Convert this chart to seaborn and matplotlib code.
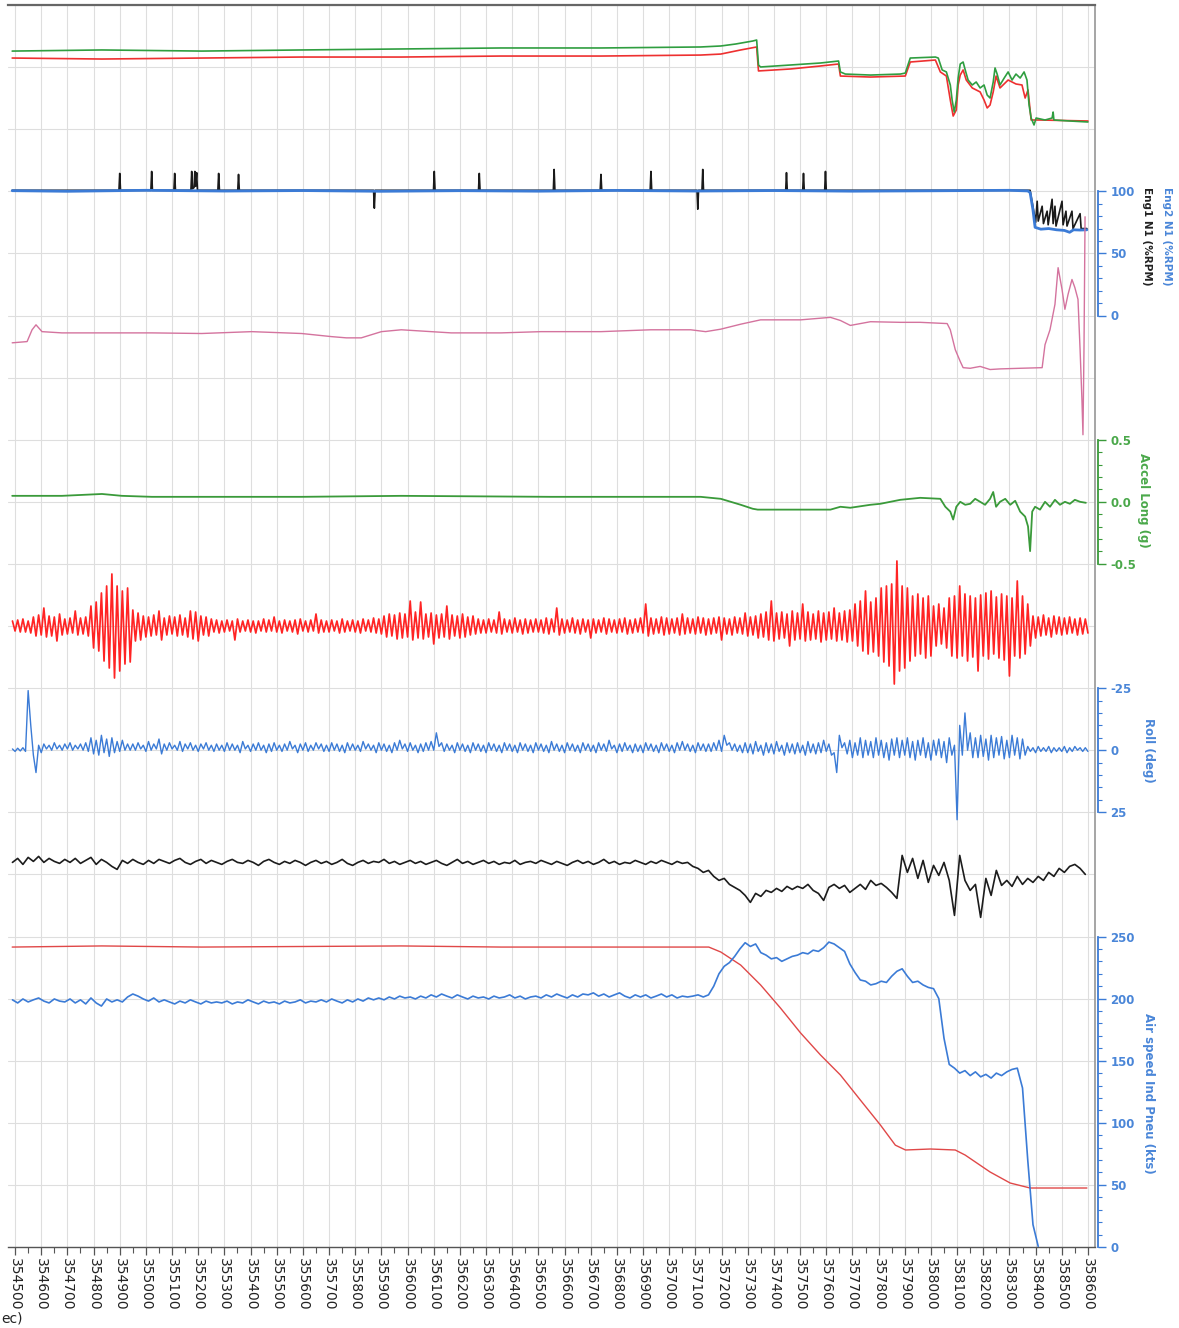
import numpy as np
import matplotlib
matplotlib.use("Agg")
import matplotlib.pyplot as plt
import seaborn as sns
from matplotlib.ticker import FixedLocator, FormatStrFormatter

# ------------------------------------------------------------------ data
X_TICKS = list(range(354500, 358601, 100))

# 20-s sample grid start for the noisy channels
T0 = 354490
DT = 20

# top pair (unlabeled channel, band units 0..100)
top_green_t = [354489, 354832, 355213, 355595, 355976, 356357, 356739, 357120, 357197, 357254,
               357319, 357334, 357341, 357349, 357464, 357578, 357647, 357654, 357673, 357769,
               357883, 357902, 357921, 358017, 358028, 358043, 358059, 358074, 358081, 358089,
               358097, 358104, 358112, 358123, 358131, 358142, 358158, 358173, 358188, 358203,
               358215, 358226, 358238, 358245, 358253, 358264, 358280, 358295, 358310, 358325,
               358341, 358356, 358367, 358375, 358383, 358394, 358402, 358436, 358463, 358467,
               358470, 358531, 358600]
top_green = [62.9, 63.8, 62.9, 63.8, 64.6, 65.4, 65.4, 66.2, 67.0, 68.6,
             71.0, 71.8, 51.7, 50.1, 51.7, 53.3, 54.9, 46.1, 44.4, 43.6,
             44.4, 45.2, 57.3, 58.1, 57.3, 47.7, 46.1, 35.6, 23.5, 13.8,
             23.5, 41.2, 52.5, 54.1, 47.7, 39.6, 35.6, 38.0, 33.2, 35.6,
             27.5, 25.1, 38.0, 49.3, 44.4, 35.6, 41.2, 46.1, 39.6, 44.4,
             41.2, 46.1, 39.6, 19.5, 9.0, 3.4, 9.0, 7.4, 9.0, 13.8,
             7.4, 6.6, 5.8]
top_red_t = [354489, 354832, 355213, 355595, 355976, 356357, 356739, 357120, 357197, 357273,
             357334, 357341, 357464, 357578, 357647, 357654, 357769, 357902, 357921, 358017,
             358036, 358059, 358074, 358085, 358097, 358104, 358112, 358123, 358135, 358158,
             358188, 358203, 358215, 358226, 358238, 358249, 358264, 358295, 358325, 358348,
             358360, 358371, 358383, 358417, 358600]
top_red = [57.3, 56.5, 57.3, 58.1, 58.1, 58.9, 58.9, 59.7, 60.5, 63.8,
           66.2, 46.9, 48.5, 50.9, 52.5, 42.8, 42.0, 42.8, 54.1, 55.7,
           46.1, 42.8, 23.5, 10.6, 15.5, 35.6, 43.6, 47.7, 39.6, 33.2,
           30.0, 23.5, 17.1, 19.5, 30.0, 42.8, 33.2, 39.6, 36.4, 35.6,
           25.1, 31.6, 7.4, 7.4, 6.6]

# Eng N1 (%RPM)
eng2_n1_t = [354489, 354700, 355000, 355300, 355600, 355900, 356200, 356500, 356800, 357100,
             357400, 357700, 358000, 358300, 358370, 358379, 358390, 358398, 358420, 358450,
             358480, 358510, 358530, 358545, 358570, 358596]
eng2_n1 = [100.5, 100.0, 100.8, 100.2, 100.6, 100.0, 100.5, 100.1, 100.7, 100.2,
           100.6, 100.1, 100.4, 100.8, 100.3, 99.0, 85.0, 71.0, 69.5, 70.0,
           69.0, 68.5, 67.0, 69.0, 68.8, 69.0]
eng1_n1_t = [354489,
             354897, 354900, 354903, 355019, 355022, 355025, 355107, 355110, 355113,
             355172, 355175, 355178, 355184, 355187, 355190, 355194, 355197,
             355275, 355278, 355281, 355351, 355354, 355357, 355870, 355873, 355876,
             356099, 356102, 356105, 356271, 356274, 356277, 356557, 356560, 356563,
             356736, 356739, 356742, 356927, 356930, 356933, 357106, 357109, 357112,
             357125, 357128, 357131, 357445, 357448, 357451, 357510, 357513, 357516,
             357594, 357597, 357600,
             358379, 358392, 358400, 358406, 358410, 358425, 358430, 358444, 358448,
             358463, 358467, 358474, 358478, 358501, 358505, 358516, 358520, 358539,
             358543, 358570, 358574, 358596]
eng1_n1 = [100.8,
           100.8, 114.4, 100.8, 100.8, 116.0, 100.8, 100.8, 114.4, 100.8,
           100.8, 116.0, 102.0, 103.0, 116.0, 104.0, 115.0, 100.8,
           100.8, 114.4, 100.8, 100.8, 113.6, 100.8, 100.8, 86.4, 100.8,
           100.8, 116.0, 100.8, 100.8, 114.4, 100.8, 100.8, 117.6, 100.8,
           100.8, 113.6, 100.8, 100.8, 116.0, 100.8, 100.8, 85.6, 100.8,
           100.8, 117.6, 100.8, 100.8, 115.0, 100.8, 100.8, 114.4, 100.8,
           100.8, 116.0, 100.8,
           100.8, 85.0, 75.0, 92.0, 76.0, 88.0, 74.0, 84.0, 73.0,
           93.6, 74.0, 88.0, 72.0, 92.0, 73.0, 84.0, 72.0, 84.0,
           70.0, 82.0, 70.0, 70.0]

# pink channel (unlabeled)
pink_t = [354489, 354546, 354565, 354580, 354603, 354679, 354832, 355023, 355213, 355404,
          355595, 355709, 355766, 355823, 355900, 355976, 356167, 356357, 356510, 356739,
          356929, 357082, 357139, 357197, 357273, 357349, 357502, 357616, 357654, 357692,
          357769, 357883, 357959, 358062, 358074, 358093, 358112, 358123, 358150, 358188,
          358226, 358264, 358341, 358425, 358436, 358455, 358474, 358486, 358501, 358512,
          358524, 358539, 358550, 358562, 358570, 358577, 358581, 358585, 358589]
pink = [5.6, 5.8, 7.7, 8.5, 7.4, 7.2, 7.2, 7.2, 7.1, 7.4,
        7.1, 6.6, 6.4, 6.4, 7.4, 7.7, 7.2, 7.2, 7.4, 7.4,
        7.7, 7.7, 7.4, 7.8, 8.6, 9.3, 9.3, 9.7, 9.2, 8.4,
        9.0, 8.9, 8.9, 8.7, 7.7, 4.5, 2.6, 1.6, 1.5, 1.8,
        1.3, 1.4, 1.5, 1.6, 5.3, 7.7, 11.8, 17.7, 14.2, 11.0,
        13.4, 15.8, 14.5, 12.6, 4.5, -3.5, -9.2, 5.0, 25.9]

# Accel Long (g)
accel_t = [354489, 354679, 354832, 354908, 355023, 355595, 355976, 356548, 357120, 357197,
           357273, 357319, 357338, 357502, 357616, 357654, 357692, 357769, 357807, 357883,
           357959, 358036, 358055, 358074, 358085, 358097, 358112, 358131, 358150, 358169,
           358188, 358207, 358226, 358238, 358249, 358264, 358284, 358303, 358322, 358341,
           358360, 358371, 358379, 358387, 358398, 358417, 358436, 358455, 358474, 358493,
           358512, 358531, 358550, 358570, 358592]
accel = [0.048, 0.048, 0.063, 0.048, 0.040, 0.040, 0.048, 0.040, 0.040, 0.024,
         -0.024, -0.056, -0.063, -0.063, -0.063, -0.040, -0.048, -0.024, -0.016, 0.016,
         0.032, 0.024, -0.040, -0.079, -0.143, -0.040, 0.000, -0.024, -0.016, 0.024,
         0.000, -0.024, 0.024, 0.079, -0.040, 0.000, 0.024, -0.024, 0.008, -0.079,
         -0.119, -0.198, -0.397, -0.079, -0.040, -0.063, 0.000, -0.040, 0.016, -0.024,
         0.000, -0.016, 0.016, 0.000, -0.008]

# red vibration channel (unlabeled), upper / lower excursion per 20-s bin
red_up = [5, 6, 7, 5, 9, 11, 18, 10, 9, 12,
          7, 8, 15, 8, 9, 20, 24, 33, 40, 52,
          40, 35, 38, 16, 13, 10, 9, 11, 15, 8,
          10, 9, 11, 8, 15, 14, 10, 9, 7, 6,
          5, 6, 5, 7, 5, 6, 5, 5, 7, 6,
          9, 5, 6, 5, 6, 7, 5, 6, 12, 6,
          5, 6, 5, 7, 5, 6, 5, 7, 6, 8,
          7, 10, 12, 11, 13, 12, 25, 14, 24, 12,
          13, 11, 12, 20, 11, 10, 12, 9, 10, 7,
          6, 7, 6, 14, 7, 6, 8, 6, 7, 6,
          7, 6, 8, 7, 18, 7, 6, 8, 6, 7,
          6, 7, 6, 8, 7, 6, 7, 8, 6, 7,
          8, 22, 8, 7, 9, 8, 7, 8, 12, 8,
          7, 9, 8, 7, 8, 9, 8, 7, 9, 8,
          13, 9, 10, 12, 14, 25, 13, 14, 12, 15,
          13, 22, 14, 12, 15, 13, 14, 18, 13, 15,
          16, 22, 25, 35, 24, 28, 38, 40, 42, 65,
          40, 38, 30, 32, 28, 30, 20, 22, 18, 28,
          30, 40, 32, 30, 28, 31, 33, 35, 29, 32,
          30, 28, 45, 30, 22, 10, 9, 11, 8, 10,
          9, 8, 9, 7, 8, 7]
red_lo = [-5, -6, -6, -7, -10, -9, -11, -10, -15, -9,
          -8, -7, -9, -8, -10, -22, -25, -35, -42, -52,
          -45, -38, -36, -15, -14, -11, -10, -9, -14, -9,
          -8, -10, -9, -11, -13, -15, -9, -10, -6, -7,
          -6, -5, -14, -6, -5, -6, -7, -5, -6, -5,
          -6, -7, -5, -6, -8, -5, -6, -5, -7, -6,
          -6, -5, -7, -6, -5, -6, -7, -5, -6, -7,
          -8, -11, -10, -13, -12, -11, -14, -12, -13, -11,
          -18, -12, -11, -13, -10, -12, -11, -9, -8, -7,
          -7, -6, -7, -8, -6, -7, -6, -8, -7, -6,
          -6, -7, -8, -6, -9, -7, -6, -7, -8, -6,
          -12, -7, -6, -8, -6, -7, -6, -8, -7, -6,
          -7, -10, -8, -7, -9, -8, -7, -9, -8, -7,
          -8, -7, -9, -8, -7, -14, -8, -9, -7, -8,
          -10, -9, -12, -11, -14, -15, -13, -12, -20, -14,
          -13, -15, -14, -13, -16, -14, -13, -15, -14, -16,
          -15, -20, -25, -28, -26, -30, -36, -40, -58, -45,
          -42, -35, -30, -28, -32, -30, -20, -18, -22, -30,
          -32, -30, -35, -31, -45, -30, -33, -28, -32, -34,
          -50, -30, -32, -28, -20, -12, -10, -9, -11, -8,
          -9, -8, -7, -9, -8, -7]

# Roll (deg), the two excursions per 20-s bin
roll_a = [-0.5, -0.8, -1.0, -24, 2, -2, -2.5, -2, -3, -2,
          -2.5, -3, -2, -2.5, -3, -5, -4, -6, -4.5, -5,
          -3.5, -4, -2.5, -2.5, -3, -2, -3.5, -2.5, -4.5, -2.5,
          -3, -2, -3.5, -2.5, -3, -2, -2.5, -3, -2, -2.5,
          -2, -3, -2.5, -2, -3.5, -2, -2.5, -3, -2, -2.5,
          -3, -2, -2.5, -3.5, -2, -2.5, -3, -2, -3, -2.5,
          -2, -3, -2.5, -2, -3, -2.5, -2, -3.5, -2.5, -2,
          -3, -2.5, -2, -3, -4, -2.5, -3, -2, -2.5, -3,
          -3.5, -7, -3, -2.5, -2, -3, -2.5, -2, -3, -2.5,
          -2, -3, -2.5, -2, -3, -2.5, -2, -3, -2.5, -2,
          -3, -2.5, -2, -3.5, -2.5, -2, -3, -2.5, -2, -3,
          -2.5, -2, -3, -2.5, -4, -2, -2.5, -3, -2, -2.5,
          -2, -3, -2.5, -2, -3, -2.5, -2, -3, -3.5, -2.5,
          -2, -3, -2.5, -2.5, -3, -4, -6, -3, -2.5, -2,
          -3, -2.5, -3.5, -2, -3, -2.5, -3.5, -2, -3, -2.5,
          -3, -2, -3.5, -2.5, -3, -4, -2.5, 1, -6, -3,
          -4, -3, -5, -4, -3.5, -5, -4, -3, -4.5, -5,
          -4, -5, -3.5, -4, -5, -3, -4, -4.5, -3.5, -5,
          -2, -10, -15, -7, -5, -6, -4.5, -6, -5, -5.5,
          -4, -6, -5, -4.5, -1.5, -1, -1.5, -1, -1.5, -1,
          -1, -1.5, -1, -1.5, -1, -1]
roll_b = [0.5, 0.3, 0.5, -10, 9, 1, -0.5, 0, -0.5, 0,
          -0.5, 0, -0.5, 0, 0.5, 1.5, 2, 1, 2.5, 1,
          0.5, 0, 0, 0, -0.5, 0.5, 0, -0.5, 1.5, 0,
          -0.5, 0, 0.5, -0.5, 0, 0.5, -0.5, 0, 0.5, 0,
          0.5, 0, 0, 1, -0.5, 0.5, 0, 0, 1, 0.5,
          0, 0.5, 0, -0.5, 1, 0, 0.5, 0, -0.5, 0.5,
          0.5, 0, 0.5, 1, 0, 0, 0.5, -0.5, 0, 1,
          0, 0.5, 1, 0, -0.5, 0.5, 0, 1, 0.5, 0,
          0, -1.5, 0.5, 0, 1, 0, 0.5, 1, 0, 0.5,
          1, 0, 0.5, 1, 0, 0.5, 1, 0, 0.5, 1,
          0, 0.5, 1, 0, 0.5, 1, 0, 0.5, 1, 0,
          0.5, 1, 0, 0.5, -0.5, 1, 0.5, 0, 1, 0.5,
          1, 0, 0.5, 1, 0, 0.5, 1, 0, 0, 0.5,
          1, 0, 0.5, 0.5, 0, 0.5, -2, 0, 0.5, 1,
          1, 1.5, 0.5, 2, 1, 1.5, 0.5, 2, 1, 1.5,
          1, 2, 1, 1.5, 1, 0.5, 2, 9, -1, 1.5,
          3, 2, 3, 2, 3, 2, 3, 4, 2, 3,
          2, 3, 4, 2, 3, 4, 2, 3, 5, 2,
          28, 2, 0, 3, 3, 2.5, 4, 3, 2, 3.5,
          3, 2, 3.5, 2, 0.5, 1, 0.5, 0.5, 1, 0.5,
          0.5, 1, 0.5, 0, 0.5, 0.5]

# black channel (unlabeled), one value per 20-s bin
black = [12, 16, 10, 17, 13, 18, 12, 16, 13, 11,
         15, 12, 16, 11, 14, 17, 10, 15, 12, 8,
         5, 14, 11, 15, 12, 10, 14, 11, 15, 13,
         11, 14, 16, 12, 10, 13, 15, 11, 14, 12,
         10, 13, 15, 12, 11, 14, 12, 9, 13, 15,
         12, 10, 13, 11, 14, 12, 9, 12, 14, 11,
         13, 10, 12, 15, 11, 9, 12, 14, 11, 13,
         12, 15, 11, 13, 10, 12, 14, 11, 13, 10,
         12, 14, 11, 9, 12, 15, 11, 13, 10, 12,
         14, 11, 13, 10, 12, 11, 14, 10, 12, 13,
         11, 14, 12, 10, 13, 11, 9, 12, 14, 11,
         13, 10, 12, 15, 11, 13, 10, 12, 11, 14,
         12, 10, 13, 11, 14, 12, 10, 13, 11, 12,
         8, 6, 2, 4, -2, -6, -4, -10, -13, -16,
         -21, -28, -19, -22, -16, -18, -14, -17, -12, -15,
         -12, -14, -10, -16, -19, -26, -13, -10, -14, -11,
         -18, -14, -10, -15, -6, -11, -9, -13, -18, -24,
         19, 2, 16, -4, 14, -8, 9, -1, 12, -6,
         -41, 19, -6, -16, -10, -43, -4, -21, 4, -11,
         -6, -12, -2, -10, -4, -8, -2, -6, 2, -2,
         6, 2, 8, 10, 6, 0]

# Air speed Ind Pneu (kts), one value per 20-s bin
airspeed = [199, 196.5, 199.7, 197.3, 199, 200.5, 198, 196.5, 199.7, 198,
            197.3, 199.7, 196.5, 199, 195.7, 200.5, 196.5, 194, 199.7, 197.3,
            199, 197.3, 201.3, 203.7, 202, 199.7, 198, 200.5, 197.3, 199,
            197.3, 195.7, 198, 196.5, 199, 197.3, 195.7, 198, 196.5, 197.3,
            196.5, 198, 195.7, 197.3, 196.5, 199, 197.3, 195.7, 198, 196.5,
            197.3, 195.7, 198, 196.5, 197.3, 199, 196.5, 198, 197.3, 199,
            197.3, 199.7, 198, 196.5, 199, 197.3, 199.7, 198, 200.5, 199,
            200.5, 199, 201.3, 199.7, 202, 200.5, 201.3, 199.7, 202, 200.5,
            203, 201.3, 203.7, 202, 200.5, 203, 201.3, 199.7, 202, 200.5,
            201.3, 199.7, 202, 200.5, 201.3, 203, 200.5, 202, 199.7, 201.3,
            202, 200.5, 203, 201.3, 203.7, 202, 200.5, 203, 201.3, 203.7,
            203, 204.6, 202, 203.7, 201.3, 203, 204.6, 202, 200.5, 203,
            201.3, 203, 200.5, 202, 203.7, 201.3, 203, 200.5, 202, 201.3,
            202, 203, 201.3, 203, 210, 220, 226, 229, 234, 240,
            245, 242, 244, 237, 235, 232, 233, 230, 232, 234,
            235, 237, 236, 239, 238, 241, 245.5, 244, 241, 238,
            228, 221, 215, 214, 211, 212, 214, 213, 218, 222,
            224, 218, 213, 214, 211, 209, 208, 200, 168, 147,
            144, 140, 142, 138, 141, 137, 139, 136, 140, 138,
            141, 143, 144, 128, 70, 18, 0.5]

# red channel in the bottom band (unlabeled, kts scale)
red_speed_t = [354489, 354832, 355213, 355976, 356357, 357151, 357197, 357273, 357349, 357425,
               357502, 357578, 357654, 357730, 357807, 357864, 357903, 357998, 358093, 358131,
               358226, 358303, 358379, 358596]
red_speed = [241.5, 242.4, 241.5, 242.4, 241.5, 241.5, 237.5, 227.0, 211.0, 192.4,
             172.3, 154.6, 138.5, 118.4, 98.2, 82.0, 78.1, 78.9, 78.1, 74.0,
             60.4, 51.5, 47.5, 47.5]

# ------------------------------------------------------------------ style
sns.set_theme(style="white")
plt.rcParams["font.family"] = ["DejaVu Sans"]
plt.rcParams["axes.unicode_minus"] = False

BLUE = "#3b7bd6"
BLUE_TXT = "#4a86d8"
GREEN = "#3a9a3a"
GREEN_TXT = "#4aa84a"
GRID = "#dedede"
NROWS = 20
XLIM = (354473, 358627)

fig = plt.figure(figsize=(11.79, 13.28), dpi=100)
ax = fig.add_axes([8 / 1179, 81 / 1328, 1087 / 1179, 1242 / 1328])
ax.set_xlim(*XLIM)
ax.set_ylim(0, NROWS)
ax.set_yticks(range(NROWS + 1))
ax.xaxis.set_major_locator(FixedLocator(X_TICKS))
ax.xaxis.set_minor_locator(FixedLocator([v + 50 for v in X_TICKS[:-1]]))
ax.set_xticklabels([str(v) for v in X_TICKS])
ax.tick_params(axis="x", which="major", direction="out", length=6, width=0.9,
               color="#555555", labelsize=10, labelcolor="#222222",
               labelrotation=-90, pad=2, bottom=True)
ax.tick_params(axis="x", which="minor", direction="out", length=4, width=0.8,
               color="#555555", bottom=True)
ax.grid(True, which="major", color=GRID, linewidth=0.8)
ax.set_axisbelow(True)
ax.spines["left"].set_visible(False)
ax.spines["top"].set_color("#666666")
ax.spines["top"].set_linewidth(1.6)
ax.spines["right"].set_color("#9a9a9a")
ax.spines["bottom"].set_color("#555555")
ax.spines["bottom"].set_linewidth(1.0)


def band_limits(v_lo, row_lo, v_hi, row_hi):
    s = (v_hi - v_lo) / (row_hi - row_lo)
    return v_lo - row_lo * s, v_lo + (NROWS - row_lo) * s


def make_twin(v_lo, row_lo, v_hi, row_hi, hidden=True):
    t = ax.twinx()
    t.set_xlim(*XLIM)
    t.set_ylim(*band_limits(v_lo, row_lo, v_hi, row_hi))
    if hidden:
        t.axis("off")
    else:
        for s in ("left", "top", "bottom"):
            t.spines[s].set_visible(False)
    return t


def style_scale(t, lo, hi, majors, minor_step, color, txtcolor, fmt=None):
    t.spines["right"].set_visible(True)
    t.spines["right"].set_color(color)
    t.spines["right"].set_linewidth(1.3)
    t.spines["right"].set_position(("outward", 2))
    t.spines["right"].set_bounds(lo, hi)
    t.yaxis.set_major_locator(FixedLocator(majors))
    t.yaxis.set_minor_locator(FixedLocator(list(np.arange(lo, hi + minor_step / 2, minor_step))))
    if fmt:
        t.yaxis.set_major_formatter(FormatStrFormatter(fmt))
    t.tick_params(axis="y", which="major", length=6, width=1.0, color=color,
                  labelcolor=txtcolor, labelsize=8.5, pad=3, direction="out")
    t.tick_params(axis="y", which="minor", length=3, width=0.8, color=color, direction="out")
    for lbl in t.get_yticklabels():
        lbl.set_fontweight("bold")


def zigzag(a, b):
    n = min(len(a), len(b))
    t = T0 + DT * np.arange(n)
    x = np.empty(2 * n)
    y = np.empty(2 * n)
    x[0::2] = t
    x[1::2] = t + DT / 2
    y[0::2] = a[:n]
    y[1::2] = b[:n]
    return x, y


def line(t, x, y, color, lw):
    sns.lineplot(x=np.asarray(x, float), y=np.asarray(y, float), ax=t, color=color,
                 linewidth=lw, estimator=None, sort=False)


# top pair
ax_top = make_twin(0, 18, 100, 20)
line(ax_top, top_red_t, top_red, "#ee3030", 1.2)
line(ax_top, top_green_t, top_green, "#2f9e40", 1.2)
ax_top.set_ylim(*band_limits(0, 18, 100, 20))

# Eng N1
ax_n1 = make_twin(0, 15, 100, 17, hidden=False)
line(ax_n1, eng1_n1_t, eng1_n1, "#1a1a1a", 1.2)
line(ax_n1, eng2_n1_t, eng2_n1, BLUE, 2.0)
ax_n1.set_ylim(*band_limits(0, 15, 100, 17))
style_scale(ax_n1, 0, 100, [0, 50, 100], 10, BLUE, BLUE_TXT)
ax_n1.set_ylabel("Eng2 N1 (%RPM)", rotation=-90, color=BLUE_TXT, fontsize=7.5,
                 fontweight="bold", va="center", ha="center")
ax_n1.yaxis.set_label_coords(1.0662, 0.814)
ax_n1.text(1.0478, 0.814, "Eng1 N1 (%RPM)", transform=ax_n1.transAxes, rotation=-90,
           color="#222222", fontsize=7.5, fontweight="bold", va="center", ha="center")

# pink channel
ax_pk = make_twin(0, 14, 10, 15)
line(ax_pk, pink_t, pink, "#d4739e", 1.0)
ax_pk.set_ylim(*band_limits(0, 14, 10, 15))

# Accel Long
ax_ac = make_twin(-0.5, 11, 0.5, 13, hidden=False)
line(ax_ac, accel_t, accel, GREEN, 1.3)
ax_ac.set_ylim(*band_limits(-0.5, 11, 0.5, 13))
style_scale(ax_ac, -0.5, 0.5, [-0.5, 0.0, 0.5], 0.1, GREEN, GREEN_TXT, fmt="%.1f")
ax_ac.set_ylabel("Accel Long (g)", rotation=-90, color=GREEN_TXT, fontsize=8.5,
                 fontweight="bold", va="center", ha="center")
ax_ac.yaxis.set_label_coords(1.0442, 0.6014)

# red vibration channel
ax_rv = make_twin(0, 10, 62.1, 11)
rx, ry = zigzag(red_up, red_lo)
line(ax_rv, rx, ry, "#ff2424", 1.25)
ax_rv.set_ylim(*band_limits(0, 10, 62.1, 11))

# Roll
ax_ro = make_twin(25, 7, -25, 9, hidden=False)
ox, oy = zigzag(roll_a, roll_b)
line(ax_ro, ox, oy, BLUE, 1.0)
ax_ro.set_ylim(*band_limits(25, 7, -25, 9))
style_scale(ax_ro, -25, 25, [-25, 0, 25], 5, BLUE, BLUE_TXT)
ax_ro.set_ylabel("Roll (deg)", rotation=-90, color=BLUE_TXT, fontsize=8.5,
                 fontweight="bold", va="center", ha="center")
ax_ro.yaxis.set_label_coords(1.0488, 0.4002)

# black channel
ax_bk = make_twin(0, 6, 62.1, 7)
line(ax_bk, T0 + DT * np.arange(len(black)), black, "#1c1c1c", 1.2)
ax_bk.set_ylim(*band_limits(0, 6, 62.1, 7))

# Air speed
ax_as = make_twin(0, 0, 250, 5, hidden=False)
line(ax_as, red_speed_t, red_speed, "#e04848", 1.0)
line(ax_as, T0 + DT * np.arange(len(airspeed)), airspeed, BLUE, 1.2)
ax_as.set_ylim(*band_limits(0, 0, 250, 5))
style_scale(ax_as, 0, 250, [0, 50, 100, 150, 200, 250], 10, BLUE, BLUE_TXT)
ax_as.set_ylabel("Air speed Ind Pneu (kts)", rotation=-90, color=BLUE_TXT, fontsize=8.5,
                 fontweight="bold", va="center", ha="center")
ax_as.yaxis.set_label_coords(1.0488, 0.124)

for t in (ax_top, ax_n1, ax_pk, ax_ac, ax_rv, ax_ro, ax_bk, ax_as):
    t.set_xlim(*XLIM)
ax.set_xlim(*XLIM)
# twinx() switches the host's left ticks back on: remove them again
ax.tick_params(axis="y", which="both", left=False, right=False,
               labelleft=False, labelright=False)

# the fragment of the x-axis title visible at the picture's left edge
fig.text(1 / 1179, 10 / 1328, "ec)", ha="left", va="center",
         fontsize=10, color="#222222")

fig.savefig("out.png", dpi=100)
